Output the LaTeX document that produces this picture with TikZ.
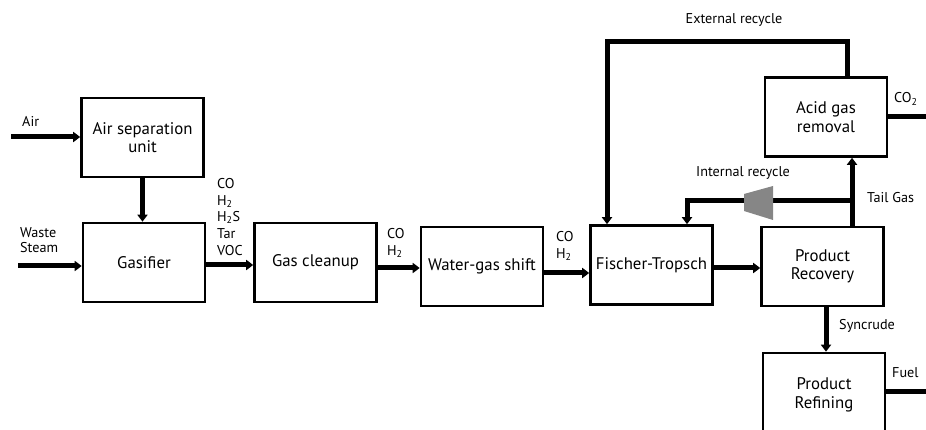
\documentclass[tikz,border=0pt]{standalone}
\usepackage{fontspec}
\setmainfont{PT Sans}
\usepackage{tikz}
\usetikzlibrary{positioning, calc}
\usetikzlibrary{arrows.meta}

\tikzset{
  blocco/.style = {draw, line width=2.6pt, minimum width=122pt, minimum height=79pt,
                   align=center, inner sep=2pt, font=\fontsize{16.8}{18.5}\selectfont},
  flusso/.style = {line width=5pt, -{Triangle[length=7pt, width=10pt]}},
  linea/.style  = {line width=5pt},
  etich/.style  = {font=\fontsize{14.2}{16.7}\selectfont, align=left, inner sep=0pt}
}

\begin{document}
\begin{tikzpicture}[x = 1pt, y = -1pt]

    % Cornice
    \clip (0,0) rectangle (926,430);

    % Blocchi
    \node[blocco] (asu) at (142.5,137.5) {Air separation\\unit};
    \node[blocco] (gas) at (144,262.5) {Gasifier};
    \node[blocco] (pul) at (315.5,262.5) {Gas cleanup};
    \node[blocco] (wgs) at (482,266.5) {Water-gas shift};
    \node[blocco] (ft)  at (651.5,265) {Fischer-Tropsch};
    \node[blocco] (pr)  at (822.5,266.5) {Product\\Recovery};
    \node[blocco] (agr) at (826,117) {Acid gas\\removal};
    \node[blocco, minimum height=100pt, text depth=20pt] (ref) at (824,403) {Product\\Refining};

    % Estremi liberi
    \coordinate (aria)   at (11,137);
    \coordinate (vapore) at (18,266);
    \coordinate (co2)    at (930,117);
    \coordinate (fuel)   at (930,391);
    \coordinate (nodo)   at (852,201);
    \coordinate (ext)    at (847,42);

    % Flussi principali
    \draw[flusso] (aria) -- (aria -| asu.west);
    \draw[flusso] (vapore) -- (vapore -| gas.west);
    \draw[flusso] (asu.south) -- (asu.south |- gas.north);
    \draw[flusso] ([yshift=-2.5pt]gas.east) -- ([yshift=-2.5pt]gas.east -| pul.west);
    \draw[flusso] ([yshift=-5.5pt]pul.east) -- ([yshift=-5.5pt]pul.east -| wgs.west);
    \draw[flusso] ([yshift=-6.5pt]wgs.east) -- ([yshift=-6.5pt]wgs.east -| ft.west);
    \draw[flusso] ([yshift=-3pt]ft.east) -- ([yshift=-3pt]ft.east -| pr.west);
    \draw[flusso] ([xshift=3.5pt]pr.south) -- ([xshift=3.5pt]pr.south |- ref.north);
    \draw[linea] (agr.east) -- (co2);
    \draw[linea] (fuel -| ref.east) -- (fuel);

    % Tail gas verso acid gas removal
    \draw[flusso] (nodo |- pr.north) -- (nodo |- agr.south);

    % Ricircolo interno
    \draw[flusso] (nodo) -- (687,201) -- (687,201 |- ft.north);
    \fill[gray!95] (744,194) -- (773,186) -- (773,220) -- (744,211) -- cycle;

    % Ricircolo esterno
    \draw[flusso] (ext |- agr.north) -- (ext) -- (607,42) -- (607,42 |- ft.north);

    % Etichette
    \node[etich, anchor=west] at (22,121) {Air};
    \node[etich, anchor=west, font=\fontsize{14.2}{15.5}\selectfont] at (20,240) {Waste\\Steam};
    \node[etich, anchor=north west] at (217,178) {CO\\H\textsubscript{2}\\H\textsubscript{2}S\\Tar\\VOC};
    \node[etich, anchor=north west] at (387,228) {CO\\H\textsubscript{2}};
    \node[etich, anchor=north west] at (556,231) {CO\\H\textsubscript{2}};
    \node[etich] at (734,20) {External recycle};
    \node[etich] at (743,173) {Internal recycle};
    \node[etich, anchor=west] at (867,198) {Tail Gas};
    \node[etich, anchor=west] at (894,99) {CO\textsubscript{2}};
    \node[etich, anchor=west] at (839,326) {Syncrude};
    \node[etich, anchor=west] at (892,373) {Fuel};

\end{tikzpicture}
\end{document}
